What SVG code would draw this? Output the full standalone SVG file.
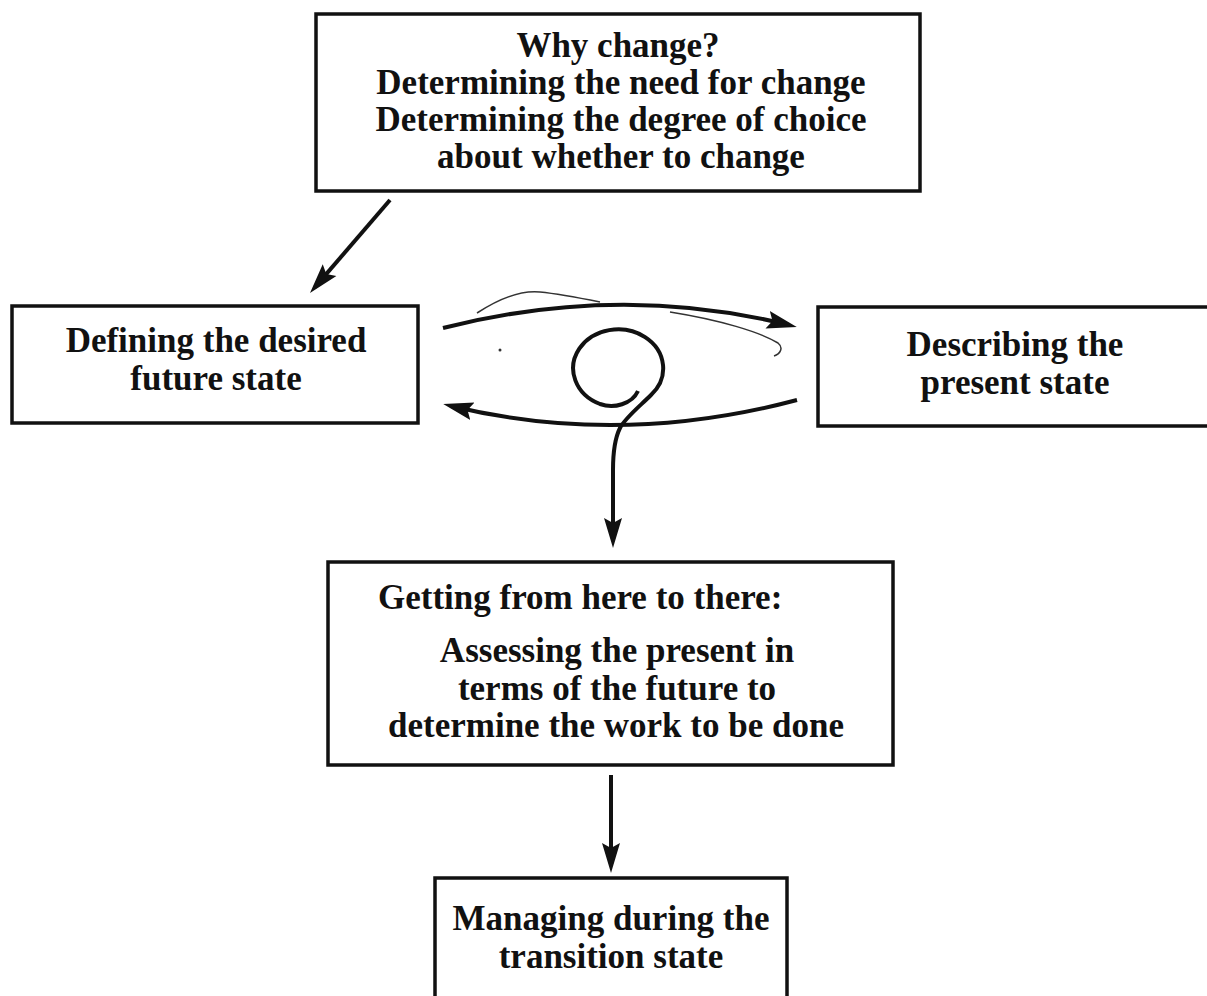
<svg xmlns="http://www.w3.org/2000/svg" width="1207" height="996" viewBox="0 0 1207 996">
  <style>
    .box { fill: #ffffff; stroke: #111; stroke-width: 3.5; }
    .lbl { font-family: "Liberation Serif", "Times New Roman", serif; font-weight: bold; font-size: 35px; fill: #111; }
    .mid { text-anchor: middle; }
    .edge { fill: none; stroke: #111; stroke-width: 4; }
    .thin { fill: none; stroke: #333; stroke-width: 1.5; }
  </style>
  <defs>
    <marker id="head" viewBox="0 0 30 20" refX="22" refY="10" markerWidth="30" markerHeight="20" markerUnits="userSpaceOnUse" orient="auto">
      <path d="M0,1 L30,10 L0,19 L5,10 z" fill="#111"/>
    </marker>
  </defs>
  <rect width="1207" height="996" fill="#ffffff"/>

  <g id="why-change">
    <rect class="box" x="316" y="14" width="604" height="177"/>
    <text class="lbl mid" x="618" y="57">Why change?</text>
    <text class="lbl mid" x="621" y="94">Determining the need for change</text>
    <text class="lbl mid" x="621" y="131">Determining the degree of choice</text>
    <text class="lbl mid" x="621" y="168">about whether to change</text>
  </g>

  <g id="future-state">
    <rect class="box" x="12" y="306" width="406" height="117"/>
    <text class="lbl mid" x="216" y="352">Defining the desired</text>
    <text class="lbl mid" x="216" y="390">future state</text>
  </g>

  <g id="present-state">
    <rect class="box" x="818" y="307" width="400" height="119"/>
    <text class="lbl mid" x="1015" y="356">Describing the</text>
    <text class="lbl mid" x="1015" y="394">present state</text>
  </g>

  <g id="here-to-there">
    <rect class="box" x="328" y="562" width="565" height="203"/>
    <text class="lbl" x="378" y="609">Getting from here to there:</text>
    <text class="lbl mid" x="617" y="662">Assessing the present in</text>
    <text class="lbl mid" x="617" y="700">terms of the future to</text>
    <text class="lbl mid" x="616" y="737">determine the work to be done</text>
  </g>

  <g id="transition-state">
    <rect class="box" x="435" y="878" width="352" height="130"/>
    <text class="lbl mid" x="611" y="930">Managing during the</text>
    <text class="lbl mid" x="611" y="968">transition state</text>
  </g>

  <g id="connectors">
    <!-- why change -> desired future -->
    <path class="edge" d="M390,200 L315.2,286.9" marker-end="url(#head)"/>
    <!-- future -> present (upper arc) -->
    <path class="edge" d="M443,328 Q620,283 789,325" marker-end="url(#head)"/>
    <!-- present -> future (lower arc) -->
    <path class="edge" d="M797,400 Q620,447 451,406" marker-end="url(#head)"/>
    <!-- spiral feeding down into the transition planning -->
    <path class="edge" d="M638,391 C632,404 614,409 600,404 A45,39 0 1 1 651,395 C640,406 625,418 620,428 C615,438 613,450 613,470 L613,540" marker-end="url(#head)"/>
    <!-- here-to-there -> transition -->
    <path class="edge" d="M611,775 L611,865" marker-end="url(#head)"/>
    <!-- pencil strokes over the upper arc -->
    <path class="thin" d="M477,313 C500,298 520,290 540,292 C560,294 580,298 600,302"/>
    <path class="thin" d="M670,312 C720,320 760,332 778,343 C784,348 780,354 774,356"/>
    <circle cx="500" cy="350" r="1.5" fill="#333"/>
  </g>
</svg>
